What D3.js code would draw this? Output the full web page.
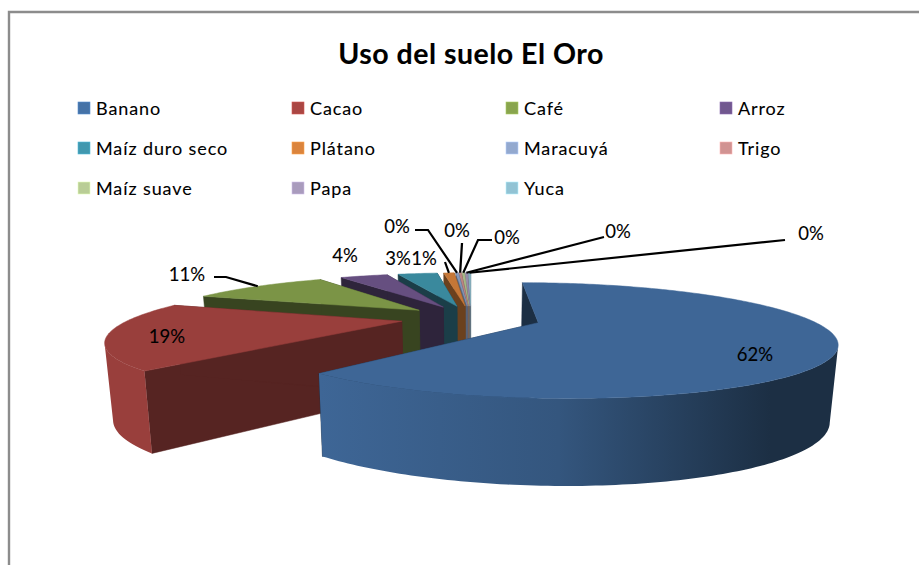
<!DOCTYPE html>
<html><head><meta charset="utf-8">
<script src="https://cdn.jsdelivr.net/npm/d3@7/dist/d3.min.js"></script>
<style>html,body{margin:0;padding:0;background:#fff}svg{display:block}text{font-family:Lato,"Noto Sans",sans-serif;fill:#000;stroke:#000;stroke-width:0.1}</style>
</head><body><svg id="c" width="919" height="565"></svg>
<script>
const categories = ["Banano","Cacao","Café","Arroz","Maíz duro seco","Plátano","Maracuyá","Trigo","Maíz suave","Papa","Yuca"];
const values = [61.55,19.0,10.6,3.8,3.2,0.85,0.2,0.2,0.2,0.2,0.2];
const colors = ["#4572a7","#aa4643","#89a54e","#71588f","#4198af","#db843d","#93a9cf","#d19392","#b9cd96","#a99bbd","#92c3d4"];
const wallDarkening = [2.5,1.9,2.5,2.5,2.5,2.0,1.5,1.5,1.5,1.5,1.5];
const title = "Uso del suelo El Oro";

// layout
const W=919,H=565;
const R=270, EXPLODE=70, VX=471, HY=153, CAM=165, DIST=900;
const legendX=d3.scalePoint().domain(d3.range(4)).range([78,720]);
const legendY=d3.scalePoint().domain(d3.range(3)).range([108,188]);
const labelLayout=[
 {x:755,y:354,lead:null},
 {x:167,y:336,lead:null},
 {x:187,y:274,lead:[[214,277],[226,277]]},
 {x:345,y:255,lead:null},
 {x:398,y:258,lead:null},
 {x:424,y:258,lead:[[445,262]]},
 {x:397,y:226,lead:[[415,230],[428,230]]},
 {x:457,y:230,lead:[[462,243]]},
 {x:507,y:237,lead:[[492,240],[478,240]]},
 {x:618,y:231,lead:[[604,237]]},
 {x:811,y:233,lead:[[785,240]]}
];

const svg=d3.select("#c");
const defs=svg.append("defs");
svg.append("path").attr("d",`M9,${H}V12H${W}`).attr("fill","none").attr("stroke","#8c8c8c").attr("stroke-width",2.4);
svg.append("text").attr("x",471).attr("y",64).attr("text-anchor","middle")
  .attr("font-size",28.5).attr("letter-spacing",0.5).attr("font-weight",700).text(title);

// legend
const leg=svg.selectAll("g.leg").data(categories).join("g").attr("class","leg")
  .attr("transform",(d,i)=>`translate(${legendX(i%4)},${legendY(Math.floor(i/4))})`);
leg.append("rect").attr("x",0).attr("y",-6).attr("width",12).attr("height",12)
  .attr("fill",(d,i)=>colors[i]).attr("stroke",(d,i)=>d3.color(colors[i]).brighter(0.6)).attr("stroke-width",0.6);
leg.append("text").attr("x",18).attr("y",6.5).attr("font-size",18).attr("letter-spacing",0.9).text(d=>d);

// pie and perspective projection
const arcs=d3.pie().sort(null).value(d=>d)(values);
function proj(u,v,drop){
  const s=DIST/(DIST+v);
  return drop ? [VX+u*s*0.977, HY+CAM*s+40+32*s] : [VX+u*s, HY+CAM*s];
}
function offsets(a){const m=(a.startAngle+a.endAngle)/2;return [EXPLODE*Math.sin(m),EXPLODE*Math.cos(m)];}
function pt(a,th,r,drop){const [ou,ov]=offsets(a);return proj(ou+r*Math.sin(th),ov+r*Math.cos(th),drop);}
const line=d3.line();
const chart=svg.append("g");
arcs.map((a,i)=>[a,i]).reverse().forEach(([a,i])=>{
  const base=d3.color(colors[i]);
  const top=base.darker(0.3).formatHex();
  const mid=base.darker(0.8).formatHex();
  const dark=base.darker(wallDarkening[i]).formatHex();
  const n=Math.max(2,Math.ceil((a.endAngle-a.startAngle)/(Math.PI/180)));
  const ths=d3.range(n+1).map(k=>a.startAngle+(a.endAngle-a.startAngle)*k/n);
  const g=chart.append("g");
  // radial walls
  [a.startAngle,a.endAngle].forEach(th=>{
    g.append("path").attr("d",line([pt(a,th,0,false),pt(a,th,R,false),pt(a,th,R,true),pt(a,th,0,true)])+"Z")
      .attr("fill",dark).attr("stroke",dark).attr("stroke-width",0.5);
  });
  // outer wall: only the part of the rim that runs leftwards on screen faces the viewer
  const rim=ths.filter((t,k)=>{
    const p=pt(a,t,R,false), prev=pt(a,t-0.001,R,false);
    return p[0]<prev[0];
  });
  if(rim.length>1){
    const id="wall"+i;
    const gr=defs.append("linearGradient").attr("id",id).attr("gradientUnits","userSpaceOnUse")
      .attr("x1",320).attr("x2",770).attr("y1",0).attr("y2",0);
    [[0,top],[0.53,mid],[1,dark]].forEach(([o,c])=>gr.append("stop").attr("offset",o).attr("stop-color",c));
    const poly=rim.map(t=>pt(a,t,R,false)).concat(rim.slice().reverse().map(t=>pt(a,t,R,true)));
    g.append("path").attr("d",line(poly)+"Z").attr("fill",`url(#${id})`);
  }
  // top face
  const face=[pt(a,0,0,false)].concat(ths.map(t=>pt(a,t,R,false)));
  g.append("path").attr("d",line(face)+"Z").attr("fill",top).attr("stroke",top).attr("stroke-width",0.5);
});

// leaders and labels
const pct=d3.format(".0%"), total=d3.sum(values);
arcs.forEach((a,i)=>{
  const l=labelLayout[i];
  if(l.lead){
    const m=(a.startAngle+a.endAngle)/2;
    const end=pt(a,m,R,false);
    svg.append("path").attr("d",line(l.lead.concat([end]))).attr("fill","none").attr("stroke","#000").attr("stroke-width",2.2);
  }
  svg.append("text").attr("x",l.x).attr("y",l.y).attr("text-anchor","middle").attr("dominant-baseline","central")
    .attr("font-size",18.5).text(pct(values[i]/total));
});
</script></body></html>
